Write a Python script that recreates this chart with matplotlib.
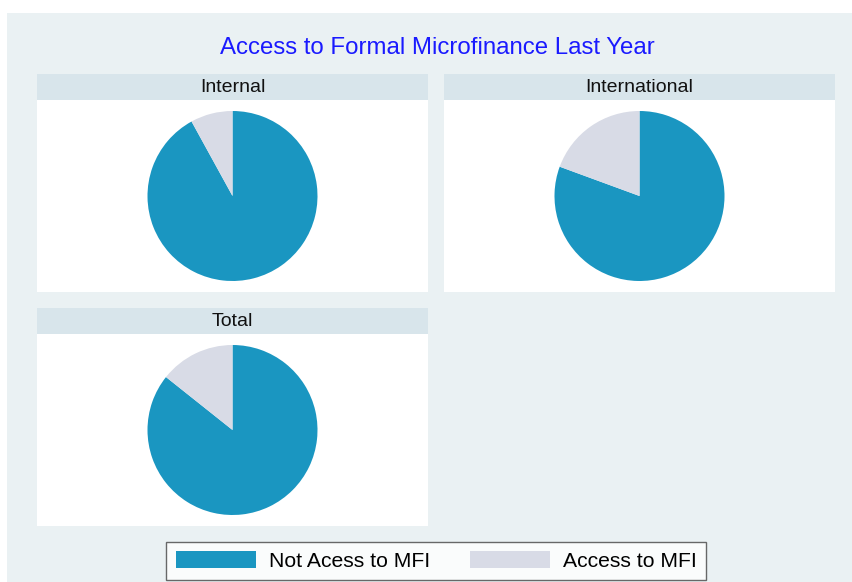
import matplotlib.pyplot as plt
from matplotlib.patches import Rectangle, Patch

# data
groups = ["Internal", "International", "Total"]
not_access = [92.0, 80.6, 85.7]
access = [8.0, 19.4, 14.3]
labels = ["Not Acess to MFI", "Access to MFI"]
colors = ["#1a96c1", "#d8dbe6"]

W, H = 853, 582
bg = "#eaf1f3"
strip = "#d8e5eb"
plt.rcParams["font.family"] = ["Liberation Sans", "DejaVu Sans"]

fig = plt.figure(figsize=(W / 100, H / 100), dpi=100)
fig.patches.append(Rectangle((7 / W, 0), 1 - 7 / W, 1 - 13 / H, transform=fig.transFigure,
                             facecolor=bg, edgecolor="none", zorder=-10))

fig.text(437 / W, 1 - 48 / H, "Access to Formal Microfinance Last Year", color="#1a1aff",
         fontsize=17.3, ha="center", va="center")

# panel boxes in pixels: (left, top of strip)
panels = [(37, 74), (444, 74), (37, 308)]
pw, strip_h, body_h = 391, 26, 192
r_px = 85

for i, g in enumerate(groups):
    x0, y0 = panels[i]
    fig.patches.append(Rectangle((x0 / W, 1 - (y0 + strip_h) / H), pw / W, strip_h / H,
                                 transform=fig.transFigure, facecolor=strip,
                                 edgecolor="none", zorder=-5))
    fig.text((x0 + pw / 2) / W, 1 - (y0 + strip_h / 2) / H, g, fontsize=14,
             ha="center", va="center", color="#111111")
    ax = fig.add_axes([x0 / W, 1 - (y0 + strip_h + body_h) / H, pw / W, body_h / H])
    ax.pie([not_access[i], access[i]], colors=colors, startangle=90, counterclock=False,
           radius=1.0, wedgeprops=dict(linewidth=0))
    ax.set_frame_on(True)
    ax.set_facecolor("white")
    ax.set_aspect("auto")
    ax.set_xlim(-pw / 2 / r_px, pw / 2 / r_px)
    ax.set_ylim(-body_h / 2 / r_px, body_h / 2 / r_px)
    ax.set_xticks([])
    ax.set_yticks([])
    for s in ax.spines.values():
        s.set_visible(False)

handles = [Patch(facecolor=c, edgecolor="none") for c in colors]
leg = fig.legend(handles, labels, loc="center", bbox_to_anchor=(436 / W, 1 - 561 / H),
                 ncol=2, fontsize=15.2, frameon=True, fancybox=False,
                 handlelength=3.8, handleheight=0.85, handletextpad=0.6,
                 columnspacing=1.9, borderpad=0.45)
leg.get_frame().set_edgecolor("#444444")
leg.get_frame().set_linewidth(1.0)
leg.get_frame().set_facecolor("white")

fig.savefig("out.png", dpi=100)
